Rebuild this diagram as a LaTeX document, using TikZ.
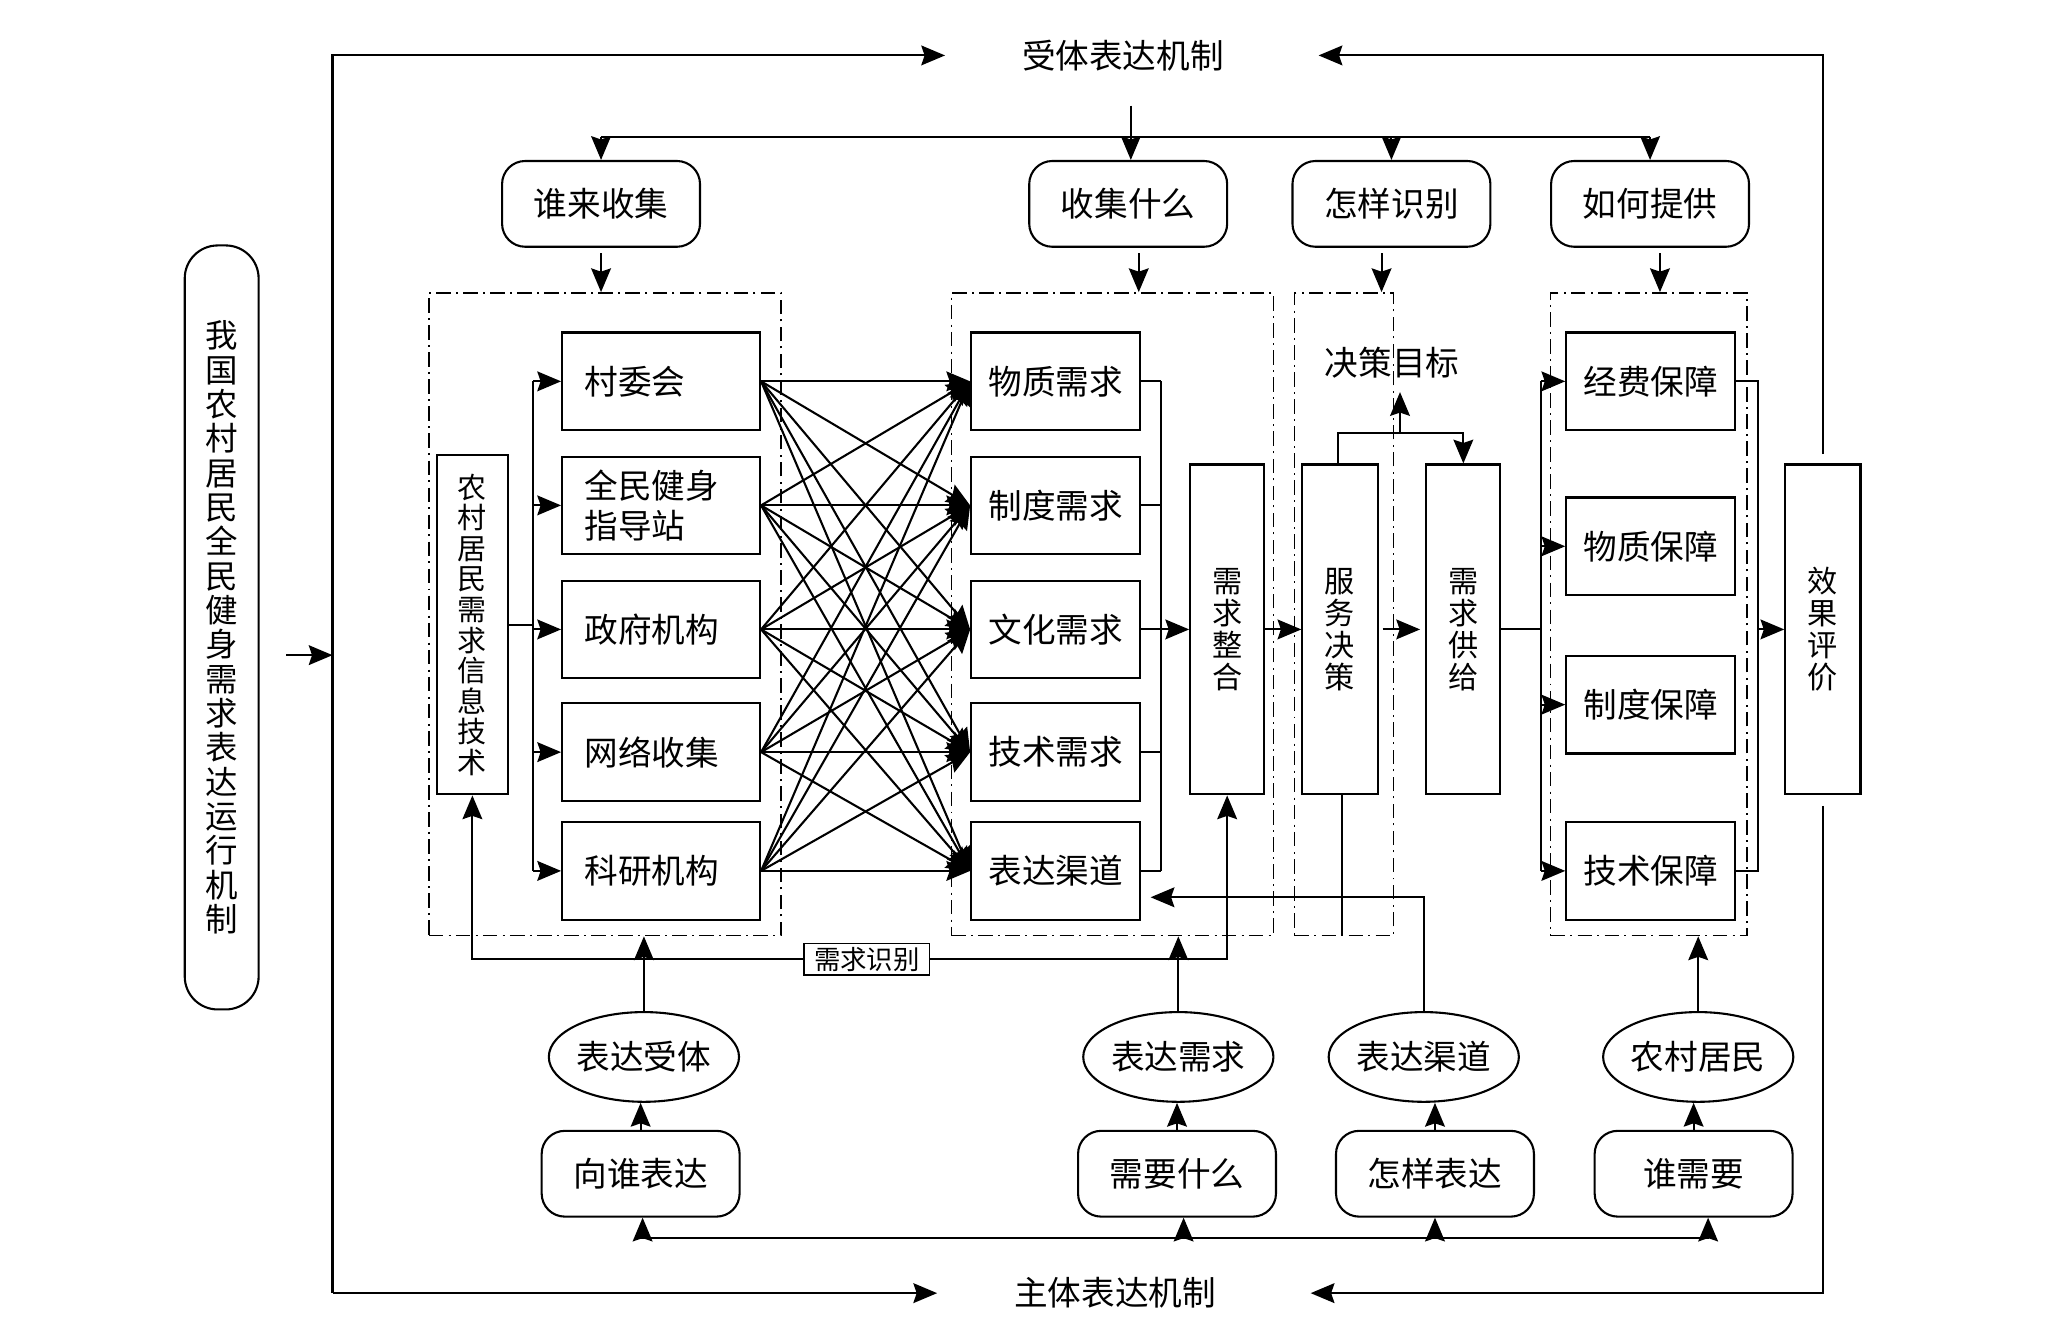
\documentclass[tikz,border=0pt]{standalone}
\usepackage{fontspec}
\setmainfont{Noto Sans CJK SC}
\usetikzlibrary{positioning,calc,shapes.geometric,arrows.meta}

\begin{document}
\begin{tikzpicture}[x=0.2mm,y=-0.2mm]
	\tikzset{
		box/.style={draw, line width=0.9pt, minimum width=30mm, minimum height=14.8mm,
			inner sep=0pt, text width=23.2mm, align=left, font=\fontsize{14.5}{17}\selectfont},
		dbox/.style={draw, line width=0.9pt, minimum width=25.6mm, minimum height=14.8mm,
			inner sep=0pt, align=center, font=\fontsize{14.5}{17}\selectfont},
		tbox/.style={draw, line width=0.9pt, minimum width=11.2mm, minimum height=50mm,
			inner sep=0pt, align=center, font=\fontsize{13}{13.8}\selectfont},
		rbox/.style={draw, line width=0.9pt, rounded corners=3.5mm, minimum width=30mm,
			minimum height=13mm, inner sep=0pt, align=center, font=\fontsize{14.5}{17}\selectfont},
		oval/.style={ellipse, draw, line width=0.9pt, minimum width=28.8mm, minimum height=13.6mm,
			inner sep=0pt, font=\fontsize{14.5}{17}\selectfont},
		grp/.style={draw, line width=0.7pt, dash pattern=on 2.2mm off 0.8mm on 0.3mm off 0.8mm, inner sep=0pt},
		lbl/.style={inner sep=0pt, font=\fontsize{14.5}{17}\selectfont},
		ln/.style={draw, line width=0.9pt},
		arr/.style={ln, -{Stealth[length=3.6mm,width=3mm,inset=0.5mm]}}
	}
	\useasboundingbox (0,0) rectangle (1568,1001);
	
	% ======= Groups =======
	\node[grp, minimum width=53.4mm, minimum height=97.4mm] (g1) at (458.5,465.5) {};
	\node[grp, minimum width=48.8mm, minimum height=97.4mm] (g2) at (843,465.5) {};
	\node[grp, minimum width=15mm, minimum height=97.4mm] (g3) at (1018.5,465.5) {};
	\node[grp, minimum width=29.8mm, minimum height=97.4mm] (g4) at (1249.5,465.5) {};
	
	% ======= Nodes =======
	\node[lbl, inner xsep=11.6mm] (top) at (851,42) {受体表达机制};
	\node[lbl, inner xsep=11.6mm] (bot) at (845,980) {主体表达机制};
	\node[tbox, rounded corners=5mm, minimum height=115.8mm, font=\fontsize{14}{14.8}\selectfont] (main) at (168,475.5)
		{我\\国\\农\\村\\居\\民\\全\\民\\健\\身\\需\\求\\表\\达\\运\\行\\机\\制};
	
	\node[rbox] (q1) at (455.5,154.5) {谁来收集};
	\node[rbox] (q2) at (855,154.5) {收集什么};
	\node[rbox] (q3) at (1054.5,154.5) {怎样识别};
	\node[rbox] (q4) at (1250.5,154.5) {如何提供};
	
	\node[tbox, minimum width=10.8mm, minimum height=51.4mm, font=\fontsize{12.5}{13.2}\selectfont] (info) at (358,473.5)
		{农\\村\\居\\民\\需\\求\\信\\息\\技\\术};
	\node[box] (b1) at (501,289) {村委会};
	\node[box] (b2) at (501,383) {全民健身\\指导站};
	\node[box] (b3) at (501,477) {政府机构};
	\node[box] (b4) at (501,570) {网络收集};
	\node[box] (b5) at (501,660) {科研机构};
	
	\node[dbox] (d1) at (800,289) {物质需求};
	\node[dbox] (d2) at (800,383) {制度需求};
	\node[dbox] (d3) at (800,477) {文化需求};
	\node[dbox] (d4) at (800,570) {技术需求};
	\node[dbox] (d5) at (800,660) {表达渠道};
	
	\node[tbox] (c1) at (930,477) {需\\求\\整\\合};
	\node[tbox, minimum width=11.4mm] (c2) at (1015.5,477) {服\\务\\决\\策};
	\node[tbox] (c3) at (1109,477) {需\\求\\供\\给};
	\node[tbox, minimum width=11.4mm] (c4) at (1381.5,477) {效\\果\\评\\价};
	\node[lbl] (goal) at (1055,275) {决策目标};
	
	\node[dbox] (e1) at (1251,289) {经费保障};
	\node[dbox] (e2) at (1251,414) {物质保障};
	\node[dbox] (e3) at (1251,534) {制度保障};
	\node[dbox] (e4) at (1251,660) {技术保障};
	
	\node[draw, line width=0.7pt, fill=white, minimum width=19mm, minimum height=4.8mm, inner sep=0pt,
		font=\fontsize{11.4}{13}\selectfont] (idn) at (657,727) {需求识别};
	
	\node[oval] (o1) at (488,801) {表达受体};
	\node[oval] (o2) at (893,801) {表达需求};
	\node[oval] (o3) at (1079,801) {表达渠道};
	\node[oval] (o4) at (1287,801) {农村居民};
	
	\node[rbox] (r1) at (485.5,889.5) {向谁表达};
	\node[rbox] (r2) at (892,889.5) {需要什么};
	\node[rbox] (r3) at (1087.5,889.5) {怎样表达};
	\node[rbox] (r4) at (1283.5,889.5) {谁需要};
	
	% ======= Outer loop =======
	\coordinate (cTL) at (252,42);
	\coordinate (cBL) at (252,980);
	\draw[arr] (cBL) -- (cTL) -- (top.west);
	\draw[arr] (cBL) -- (bot.west);
	\draw[arr, shorten <=4mm] ([yshift=-4.2mm]main.east) -- ([yshift=-4.2mm]main.east -| cTL);
	\draw[arr, shorten <=1.4mm, shorten >=2.7mm] (c4.north) |- (top.east);
	\draw[arr, shorten <=1.6mm, shorten >=2.7mm] (c4.south) |- (bot.east);
	
	% ======= Top row =======
	\coordinate (jIn) at (857,80);
	\coordinate (jTop) at (0,103.5);
	\draw[arr] (jIn) -- (jIn |- q2.north);
	\draw[ln] (q1.north |- jTop) -- (q4.north |- jTop);
	\foreach \k in {1,3,4}
		\draw[arr] (q\k.north |- jTop) -- (q\k.north);
	\draw[arr, shorten <=0.8mm] (q1.south) -- (q1.south |- g1.north);
	\draw[arr, shorten <=0.8mm] ([xshift=1.6mm]q2.south) -- ([xshift=1.6mm]q2.south |- g2.north);
	\draw[arr, shorten <=0.8mm] ([xshift=-1.5mm]q3.south) -- ([xshift=-1.5mm]q3.south |- g3.north);
	\draw[arr, shorten <=0.8mm] ([xshift=1.5mm]q4.south) -- ([xshift=1.5mm]q4.south |- g4.north);
	
	% ======= Collection =======
	\coordinate (busA) at (404,0);
	\draw[ln] (info.east) -- (info.east -| busA);
	\draw[ln] (b1.west -| busA) -- (b5.west -| busA);
	\foreach \i in {1,...,5}
		\draw[arr] (b\i.west -| busA) -- (b\i.west);
	\foreach \i in {1,...,5}
		\foreach \j in {1,...,5}
			\draw[arr] (b\i.east) -- (d\j.west);
	
	% ======= Demands to decision =======
	\coordinate (busB) at (880,0);
	\foreach \j in {1,...,5}
		\draw[ln] (d\j.east) -- (d\j.east -| busB);
	\draw[ln] (d1.east -| busB) -- (d5.east -| busB);
	\draw[arr] (c1.west -| busB) -- (c1.west);
	\draw[arr] (c1.east) -- (c2.west);
	\draw[arr, shorten <=0.6mm, shorten >=0.8mm] (c2.east) -- (c3.west);
	\coordinate (jDec) at (1061,328);
	\draw[arr] ([xshift=-0.3mm]c2.north) |- (jDec) -| (c3.north);
	\draw[arr, shorten >=2mm] (jDec) -- (jDec |- goal.south);
	\draw[ln] ([xshift=0.3mm]c2.south) -- ([xshift=0.3mm]c2.south |- g3.south);
	
	% ======= Supply =======
	\coordinate (busC) at (1168,0);
	\coordinate (busD) at (1332,0);
	\draw[ln] (c3.east) -- (c3.east -| busC);
	\draw[ln] (e1.west -| busC) -- (e4.west -| busC);
	\foreach \i in {1,...,4}
		\draw[arr] (e\i.west -| busC) -- (e\i.west);
	\draw[ln] (e1.east) -- (e1.east -| busD) -- (e4.east -| busD) -- (e4.east);
	\draw[arr] (c4.west -| busD) -- (c4.west);
	
	% ======= Expression side =======
	\draw[arr] (idn.west) -| (info.south);
	\draw[arr] (idn.east) -| (c1.south);
	\draw[arr] (o1.north) -- (o1.north |- g1.south);
	\draw[arr] (o2.north) -- (o2.north |- g2.south);
	\coordinate (jCh) at (872,680);
	\draw[arr] (o3.north) |- (jCh);
	\draw[arr] (o4.north) -- (o4.north |- g4.south);
	\foreach \k in {1,...,4}
		\draw[arr] (r\k.north) -- (r\k.north |- o\k.south);
	\coordinate (jBot) at (0,938);
	\draw[ln] (r1.south |- jBot) -- ([xshift=2.2mm]r4.south |- jBot);
	\foreach \k/\s in {1/0.3mm,2/1mm,3/0mm,4/2.2mm}
		\draw[arr] ([xshift=\s]r\k.south |- jBot) -- ([xshift=\s]r\k.south);
\end{tikzpicture}
\end{document}
